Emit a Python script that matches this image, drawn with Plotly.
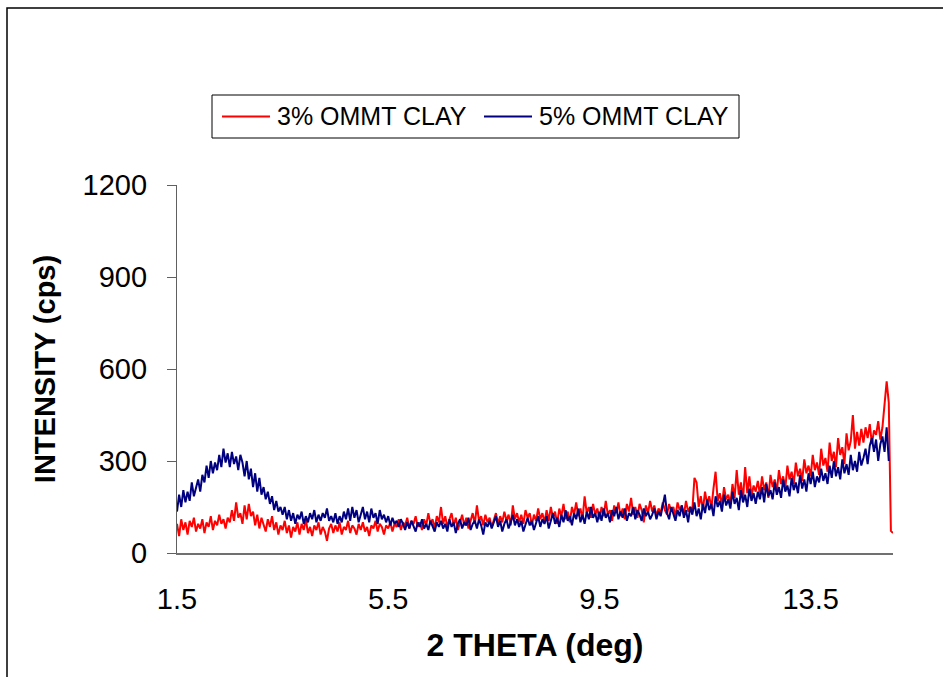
import numpy as np
import plotly.graph_objects as go

# XRD scan grid: 2-theta starts at 1.5 deg, 0.04 deg per step
START_DEG = 1.5
STEP_DEG = 0.04

series_names = ["3% OMMT CLAY", "5% OMMT CLAY"]
series_colors = ["#FF0000", "#000080"]

# Intensity (cps), 3% OMMT clay
clay_3 = [
    # 1.50 - 2.46
    95, 55, 110, 75, 100, 60, 105, 85, 115, 70, 95, 80, 110, 65, 100, 85, 120, 75, 105, 90, 125, 95, 110, 80, 115,
    # 2.50 - 3.46
    100, 140, 105, 165, 115, 130, 95, 155, 110, 160, 120, 135, 90, 125, 80, 115, 95, 70, 110, 85, 120, 75, 100, 60, 90,
    # 3.50 - 4.46
    75, 105, 65, 90, 50, 85, 70, 100, 60, 95, 75, 110, 65, 85, 55, 90, 75, 100, 60, 85, 70, 40, 80, 95, 65,
    # 4.50 - 5.46
    90, 70, 100, 60, 85, 75, 105, 65, 90, 80, 60, 95, 75, 100, 70, 85, 55, 90, 80, 105, 70, 95, 85, 60, 90,
    # 5.50 - 6.46
    80, 100, 70, 95, 85, 110, 75, 100, 90, 115, 80, 105, 95, 120, 85, 100, 75, 110, 90, 130, 95, 110, 80, 120, 100,
    # 6.50 - 7.46
    150, 95, 120, 85, 110, 130, 90, 115, 75, 105, 125, 90, 115, 80, 110, 130, 95, 155, 105, 120, 90, 125, 100, 115, 85,
    # 7.50 - 8.46
    110, 130, 95, 120, 100, 135, 105, 125, 90, 155, 110, 130, 100, 125, 95, 140, 115, 130, 90, 125, 105, 145, 110, 130, 100,
    # 8.50 - 9.46
    140, 105, 150, 115, 135, 95, 145, 120, 160, 110, 135, 100, 150, 125, 165, 120, 145, 110, 185, 130, 150, 115, 160, 125, 145,
    # 9.50 - 10.46
    110, 150, 120, 170, 125, 140, 105, 155, 130, 165, 120, 145, 110, 160, 135, 180, 125, 150, 115, 160, 140, 100, 155, 130, 170,
    # 10.50 - 11.46
    135, 155, 120, 145, 130, 165, 140, 125, 160, 135, 150, 120, 165, 140, 155, 125, 170, 135, 150, 140, 245, 230, 150, 185, 140,
    # 11.50 - 12.46
    200, 160, 185, 145, 210, 265, 170, 195, 155, 215, 175, 190, 160, 225, 180, 270, 190, 230, 175, 280, 195, 250, 185, 220, 200,
    # 12.50 - 13.46
    235, 190, 250, 205, 230, 180, 255, 215, 240, 200, 270, 225, 250, 210, 285, 240, 265, 225, 295, 250, 275, 235, 305, 260, 285,
    # 13.50 - 14.46
    250, 320, 270, 295, 255, 340, 285, 310, 265, 360, 300, 330, 280, 375, 320, 345, 290, 390, 335, 365, 450, 340, 395, 350, 405,
    # 14.50 - 15.06
    360, 410, 375, 420, 355, 400, 385, 430, 370, 410, 480, 560, 490, 72, 65,
]

# Intensity (cps), 5% OMMT clay
clay_5 = [
    # 1.50 - 2.46
    135, 190, 150, 205, 165, 200, 170, 230, 185, 215, 240, 200, 255, 230, 285, 245, 300, 260, 295, 270, 320, 280, 340, 295, 325,
    # 2.50 - 3.46
    280, 330, 290, 315, 270, 320, 295, 250, 300, 240, 275, 215, 260, 200, 245, 190, 215, 175, 200, 160, 185, 140, 170, 135, 150,
    # 3.50 - 4.46
    125, 150, 110, 140, 105, 130, 95, 125, 110, 135, 95, 120, 100, 130, 110, 140, 100, 125, 105, 130, 115, 145, 105, 120, 100,
    # 4.50 - 5.46
    130, 95, 120, 100, 135, 110, 145, 105, 150, 115, 140, 100, 125, 150, 110, 135, 100, 145, 115, 130, 95, 140, 110, 125, 100,
    # 5.50 - 6.46
    120, 90, 115, 95, 105, 85, 110, 95, 75, 100, 80, 105, 90, 70, 100, 85, 110, 80, 95, 75, 105, 90, 70, 100, 85,
    # 6.50 - 7.46
    105, 80, 95, 70, 110, 85, 100, 65, 95, 110, 80, 100, 90, 115, 75, 95, 105, 80, 110, 90, 60, 100, 85, 105, 80,
    # 7.50 - 8.46
    100, 120, 85, 105, 70, 95, 110, 80, 100, 125, 90, 110, 85, 105, 70, 95, 115, 90, 105, 75, 100, 120, 85, 110, 95,
    # 8.50 - 9.46
    120, 80, 105, 130, 95, 115, 85, 125, 100, 140, 105, 120, 90, 130, 110, 145, 100, 125, 95, 135, 110, 150, 115, 130, 100,
    # 9.50 - 10.46
    135, 105, 145, 115, 130, 100, 140, 120, 150, 110, 135, 115, 145, 105, 130, 120, 150, 110, 140, 125, 105, 145, 120, 135, 110,
    # 10.50 - 11.46
    125, 145, 110, 135, 120, 150, 190, 130, 110, 150, 125, 105, 140, 120, 155, 115, 140, 100, 150, 125, 165, 120, 145, 110, 160,
    # 11.50 - 12.46
    130, 175, 140, 160, 120, 185, 150, 170, 135, 190, 155, 175, 145, 200, 160, 180, 140, 205, 165, 190, 150, 210, 170, 195, 160,
    # 12.50 - 13.46
    200, 175, 215, 165, 225, 185, 205, 175, 230, 190, 215, 180, 240, 200, 220, 185, 245, 205, 230, 195, 255, 210, 240, 200, 260,
    # 13.50 - 14.46
    225, 265, 215, 250, 230, 275, 235, 260, 225, 285, 245, 300, 250, 280, 240, 305, 260, 290, 255, 320, 270, 300, 265, 330, 285,
    # 14.50 - 14.98
    310, 340, 290, 350, 375, 330, 370, 300, 355, 380, 330, 410, 300,
]

x_ticks = [1.5, 5.5, 9.5, 13.5]
y_ticks = [0, 300, 600, 900, 1200]

theta_3 = START_DEG + STEP_DEG * np.arange(len(clay_3))
theta_5 = START_DEG + STEP_DEG * np.arange(len(clay_5))

W, H = 943, 677
ML, MR, MT, MB = 177, 50, 185, 124
PW, PH = W - ML - MR, H - MT - MB


def px_to_paper_x(px):
    return (px - ML) / PW


def px_to_paper_y(py):
    return (H - MB - py) / PH


fig = go.Figure()
for theta, counts, name, color in zip([theta_3, theta_5], [clay_3, clay_5], series_names, series_colors):
    fig.add_trace(go.Scatter(x=theta, y=counts, mode="lines", name=name,
                             line=dict(color=color, width=2), showlegend=False))

font_family = "Liberation Sans, Arial, sans-serif"

fig.update_layout(
    width=W, height=H,
    margin=dict(l=ML, r=MR, t=MT, b=MB),
    paper_bgcolor="white", plot_bgcolor="white",
    font=dict(family=font_family, color="black"),
    xaxis=dict(
        range=[1.5, 15.06],
        tickvals=x_ticks,
        ticktext=[f"{v:g}" for v in x_ticks],
        showgrid=False, zeroline=False,
        showline=True, linecolor="#707070", linewidth=2,
        ticks="", ticklabelstandoff=19,
        tickfont=dict(size=29),
        title=dict(text="<b>2 THETA (deg)</b>", font=dict(size=32), standoff=20),
    ),
    yaxis=dict(
        range=[0, 1200],
        tickvals=y_ticks,
        showgrid=False, zeroline=False,
        showline=True, linecolor="#606060", linewidth=1.3,
        ticks="outside", ticklen=9, tickcolor="#606060", tickwidth=1.3,
        ticklabelstandoff=14,
        tickfont=dict(size=29),
        title=dict(text="<b>INTENSITY (cps)</b>", font=dict(size=29), standoff=18),
    ),
)

# outer chart frame, running off the right and bottom edges
fig.add_shape(type="rect", xref="paper", yref="paper",
              x0=px_to_paper_x(7), x1=px_to_paper_x(W + 20),
              y0=px_to_paper_y(H + 20), y1=px_to_paper_y(8),
              line=dict(color="black", width=1.5), fillcolor="rgba(0,0,0,0)",
              layer="below")

# legend box with line keys
LEG_L, LEG_R, LEG_T, LEG_B = 212, 739, 95, 138
leg_mid = (LEG_T + LEG_B) / 2
fig.add_shape(type="rect", xref="paper", yref="paper",
              x0=px_to_paper_x(LEG_L), x1=px_to_paper_x(LEG_R),
              y0=px_to_paper_y(LEG_B), y1=px_to_paper_y(LEG_T),
              line=dict(color="black", width=1), fillcolor="white")
key_starts = [222, 484]
for start, name, color in zip(key_starts, series_names, series_colors):
    fig.add_shape(type="line", xref="paper", yref="paper",
                  x0=px_to_paper_x(start), x1=px_to_paper_x(start + 48),
                  y0=px_to_paper_y(leg_mid), y1=px_to_paper_y(leg_mid),
                  line=dict(color=color, width=2))
    fig.add_annotation(xref="paper", yref="paper",
                       x=px_to_paper_x(start + 53), y=px_to_paper_y(leg_mid),
                       xanchor="left", yanchor="middle", showarrow=False,
                       text=name, font=dict(size=25, family=font_family, color="black"))

fig.write_html("out.html")
